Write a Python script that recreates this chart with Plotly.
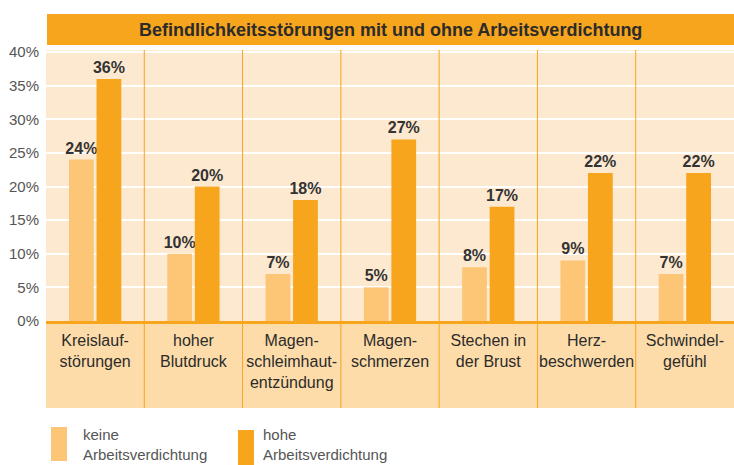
"""Befindlichkeitsstörungen mit und ohne Arbeitsverdichtung - grouped bars."""

import plotly.graph_objects as go

categories = [
    "Kreislaufstörungen", "hoher Blutdruck", "Magenschleimhautentzündung",
    "Magenschmerzen", "Stechen in der Brust", "Herzbeschwerden", "Schwindelgefühl",
]
category_labels = [
    "Kreislauf-<br>störungen", "hoher<br>Blutdruck", "Magen-<br>schleimhaut-<br>entzündung",
    "Magen-<br>schmerzen", "Stechen in<br>der Brust", "Herz-<br>beschwerden", "Schwindel-<br>gefühl",
]
series_names = ["keine<br>Arbeitsverdichtung", "hohe<br>Arbeitsverdichtung"]
keine = [24, 10, 7, 5, 8, 9, 7]
hohe = [36, 20, 18, 27, 17, 22, 22]
y_ticks = [0, 5, 10, 15, 20, 25, 30, 35, 40]

TITLE = "Befindlichkeitsstörungen mit und ohne Arbeitsverdichtung"
FONT = "Liberation Sans, Arial, sans-serif"
LIGHT = "#FDC677"
DARK = "#F7A51D"
PLOT_BG = "#FDE9CF"
LABEL_BG = "#FDDCA9"

W, H = 734, 465
M_L, M_R, M_T, M_B = 46, 0, 50, 144
plot_h = H - M_T - M_B
plot_w = W - M_L - M_R


def py(px):
    """Pixel row (from top) to paper y."""
    return (H - M_B - px) / plot_h


def pxx(px):
    """Pixel column to paper x."""
    return (px - M_L) / plot_w


fig = go.Figure()
for name, vals, col in [(series_names[0], keine, LIGHT), (series_names[1], hohe, DARK)]:
    fig.add_trace(go.Bar(
        x=categories, y=vals, name=name, marker_color=col, marker_line_width=0,
        text=[f"{v}%" for v in vals], textposition="outside", constraintext="none",
        cliponaxis=False,
        textfont=dict(family=FONT, size=16, color="#333333", weight="bold"),
    ))

shapes = []
# category label band
shapes.append(dict(type="rect", xref="paper", yref="paper", x0=0, x1=1,
                   y0=py(408), y1=0, fillcolor=LABEL_BG, line_width=0, layer="below"))
# category separators
for i in range(len(categories) - 1):
    shapes.append(dict(type="line", xref="x", yref="paper", x0=i + 0.5, x1=i + 0.5,
                       y0=py(408), y1=1, line=dict(color=DARK, width=1)))
# title band
shapes.append(dict(type="rect", xref="paper", yref="paper", x0=pxx(47), x1=1,
                   y0=py(45), y1=py(14), fillcolor=DARK, line_width=0))
# legend swatches
shapes.append(dict(type="rect", xref="paper", yref="paper", x0=pxx(51), x1=pxx(67),
                   y0=py(461), y1=py(427), fillcolor=LIGHT, line_width=0))
shapes.append(dict(type="rect", xref="paper", yref="paper", x0=pxx(238), x1=pxx(254),
                   y0=py(466), y1=py(430), fillcolor=DARK, line_width=0))

annotations = [
    dict(text=TITLE, xref="paper", yref="paper", x=(pxx(47) + 1) / 2, y=(py(45) + py(14)) / 2,
         xanchor="center", yanchor="middle", showarrow=False,
         font=dict(family=FONT, size=18, color="#2b2b2b", weight="bold")),
    dict(text=series_names[0], xref="paper", yref="paper", x=pxx(81), y=py(424),
         xanchor="left", yanchor="top", align="left", showarrow=False,
         font=dict(family=FONT, size=15, color="#555555")),
    dict(text=series_names[1], xref="paper", yref="paper", x=pxx(261), y=py(424),
         xanchor="left", yanchor="top", align="left", showarrow=False,
         font=dict(family=FONT, size=15, color="#555555")),
]

fig.update_layout(
    width=W, height=H,
    margin=dict(l=M_L, r=M_R, t=M_T, b=M_B),
    paper_bgcolor="white", plot_bgcolor=PLOT_BG,
    barmode="group", bargap=0.44, bargroupgap=0.1,
    showlegend=False,
    shapes=shapes, annotations=annotations,
    xaxis=dict(
        tickmode="array", tickvals=categories, ticktext=category_labels,
        tickfont=dict(family=FONT, size=16, color="#2b2b2b"),
        ticks="outside", ticklen=3, tickcolor="rgba(0,0,0,0)",
        showline=True, linecolor=DARK, linewidth=3, showgrid=False,
        range=[-0.5, len(categories) - 0.5],
    ),
    yaxis=dict(
        range=[0, 40.3], tickmode="array", tickvals=y_ticks,
        ticktext=[f"{t}%" for t in y_ticks],
        tickfont=dict(family=FONT, size=15, color="#555555"),
        gridcolor="white", gridwidth=2, zeroline=False, showline=False,
        ticks="outside", ticklen=3, tickcolor="rgba(0,0,0,0)",
    ),
)

# drop the browser's default body margin so the figure sits at the page corner
fig.write_html("out.html", config={"displayModeBar": False},
               post_script="document.body.style.margin='0';")
